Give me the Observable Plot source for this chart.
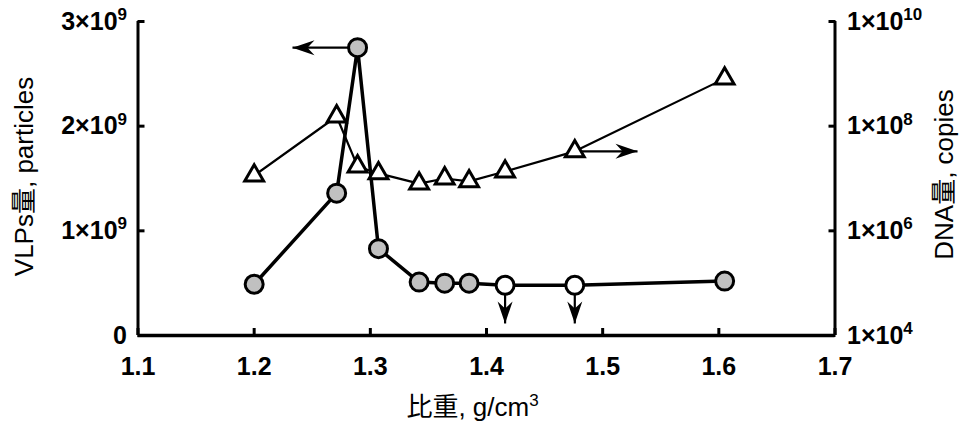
<!DOCTYPE html>
<html>
<head>
<meta charset="utf-8">
<script src="https://cdn.jsdelivr.net/npm/d3@7"></script>
<script src="https://cdn.jsdelivr.net/npm/@observablehq/plot@0.6"></script>
<style>
  html, body { margin: 0; padding: 0; background: #fff; }
  svg { display: block; }
</style>
</head>
<body>
<div id="chart"></div>
<script>
// ---- data ----
const density = [1.200, 1.271, 1.289, 1.307, 1.342, 1.364, 1.385, 1.416, 1.476, 1.605];
const vlps    = [0.49e9, 1.36e9, 2.75e9, 0.83e9, 0.51e9, 0.50e9, 0.50e9, 0.48e9, 0.48e9, 0.52e9];
const vlpsBelowLimit = [false, false, false, false, false, false, false, true, true, false];
const dna     = [1.14e7, 1.53e8, 1.7e7, 1.25e7, 8.0e6, 1.0e7, 8.8e6, 1.36e7, 3.3e7, 8.1e8];

const xTicks = [1.1, 1.2, 1.3, 1.4, 1.5, 1.6, 1.7];
const leftTicks = [0, 1e9, 2e9, 3e9];
const leftTickLabels = ["0", "1×10^9", "2×10^9", "3×10^9"];
const rightTickValues = [1e4, 1e6, 1e8, 1e10];
const rightTickLabels = ["1×10^4", "1×10^6", "1×10^8", "1×10^10"];

// axis indicator arrows (which axis each series belongs to) and upper-limit arrows
const vlpsArrowTipX = 1.233;   // arrow from VLP peak to the left
const dnaArrowTipX = 1.530;    // arrow from DNA point to the right
const dnaArrowIndex = 8;
const vlpsArrowIndex = 2;
const limitArrowTipY = 0.115e9;

const xLabel = "比重, g/cm^3";
const yLeftLabel = "VLPs量, particles";
const yRightLabel = "DNA量, copies";

// ---- map right (log) axis onto the left linear scale ----
const leftMax = 3e9;
const dnaToY = v => (Math.log10(v) - 4) / 6 * leftMax;

const vlpsData = density.map((x, i) => ({x, y: vlps[i], open: vlpsBelowLimit[i]}));
const dnaData = density.map((x, i) => ({x, y: dnaToY(dna[i])}));

const vlpsArrow = [{x1: density[vlpsArrowIndex], y1: vlps[vlpsArrowIndex], x2: vlpsArrowTipX, y2: vlps[vlpsArrowIndex], rot: 0}];
const dnaArrow = [{x1: density[dnaArrowIndex], y1: dnaToY(dna[dnaArrowIndex]), x2: dnaArrowTipX, y2: dnaToY(dna[dnaArrowIndex]), rot: 180}];
const limitArrows = vlpsData.filter(d => d.open).map(d => ({x1: d.x, y1: d.y, x2: d.x, y2: limitArrowTipY, rot: -90}));
const allArrows = [...vlpsArrow, ...dnaArrow, ...limitArrows];

// filled stealth arrowhead, tip at origin, pointing left
const arrowHead = {
  draw(context) {
    const L = 22, W = 7.5;
    context.moveTo(0, 0);
    context.lineTo(L, -W);
    context.lineTo(L * 0.68, 0);
    context.lineTo(L, W);
    context.closePath();
  }
};

const font = "'Liberation Sans', Arial, 'Noto Sans CJK JP', sans-serif";
const rightMap = new Map(leftTicks.map((t, i) => [t, rightTickLabels[i]]));
const leftMap = new Map(leftTicks.map((t, i) => [t, leftTickLabels[i]]));
const rightPos = rightTickValues.map(dnaToY);

const chart = Plot.plot({
  width: 962,
  height: 424,
  marginLeft: 137.5,
  marginRight: 127.5,
  marginTop: 21,
  marginBottom: 89,
  style: {fontFamily: font, background: "#fff", color: "#000", overflow: "visible"},
  x: {domain: [1.1, 1.7]},
  y: {domain: [0, leftMax]},
  marks: [
    // axis lines
    Plot.ruleX([1.1], {y1: 0, y2: leftMax, strokeWidth: 3}),
    Plot.ruleX([1.7], {y1: 0, y2: leftMax, strokeWidth: 3}),
    Plot.ruleY([0], {x1: 1.1, x2: 1.7, strokeWidth: 3.5}),
    // inward ticks
    Plot.axisX(xTicks, {anchor: "bottom", tickSize: -7, strokeWidth: 3, tickFormat: () => "", label: null}),
    Plot.axisY(leftTicks, {anchor: "left", tickSize: -7, strokeWidth: 3, tickFormat: () => "", label: null}),
    Plot.axisY(rightPos, {anchor: "right", tickSize: -7, strokeWidth: 3, tickFormat: () => "", label: null}),
    // tick labels
    Plot.axisX(xTicks, {anchor: "bottom", tickSize: 0, tickPadding: 22, tickFormat: d => d.toFixed(1),
      fontSize: 25, fontWeight: "bold", label: null}),
    Plot.axisY(leftTicks, {anchor: "left", tickSize: 0, tickPadding: 11, tickFormat: d => leftMap.get(d),
      fontSize: 25, fontWeight: "bold", label: null}),
    Plot.axisY(rightPos, {anchor: "right", tickSize: 0, tickPadding: 12,
      tickFormat: d => rightMap.get(leftTicks[rightPos.indexOf(d)]),
      fontSize: 25, fontWeight: "bold", label: null}),
    // axis titles
    Plot.text([xLabel], {frameAnchor: "bottom", text: d => d, dy: 72, dx: -14, fontSize: 26,
      textAnchor: "middle", lineAnchor: "middle"}),
    Plot.text([yLeftLabel], {frameAnchor: "left", text: d => d, rotate: -90, dx: -113, dy: -2, fontSize: 26,
      textAnchor: "middle", lineAnchor: "middle"}),
    Plot.text([yRightLabel], {frameAnchor: "right", text: d => d, rotate: -90, dx: 110, dy: -4, fontSize: 26,
      textAnchor: "middle", lineAnchor: "middle"}),
    // series lines
    Plot.line(vlpsData, {x: "x", y: "y", stroke: "#000", strokeWidth: 3.5}),
    Plot.line(dnaData, {x: "x", y: "y", stroke: "#000", strokeWidth: 2.2}),
    // arrows
    Plot.link(allArrows, {x1: "x1", y1: "y1", x2: "x2", y2: "y2", stroke: "#000", strokeWidth: 2.2}),
    Plot.dot(allArrows, {x: "x2", y: "y2", symbol: arrowHead, rotate: "rot", fill: "#000", stroke: "none", r: 5}),
    // markers
    Plot.dot(dnaData, {x: "x", y: "y", symbol: "triangle", r: 7, fill: "#fff", stroke: "#000", strokeWidth: 3}),
    Plot.dot(vlpsData, {x: "x", y: "y", symbol: "circle", r: 9, fill: d => d.open ? "#fff" : "#c0c0c0",
      stroke: "#000", strokeWidth: 3})
  ]
});

// superscripts for "^" parts
d3.select(chart).selectAll("text").each(function() {
  const t = this.textContent;
  if (!t || !t.includes("^")) return;
  const [base, sup] = t.split("^");
  const sel = d3.select(this);
  const fs = parseFloat(sel.attr("font-size")) || parseFloat(getComputedStyle(this).fontSize) || 25;
  sel.text(null);
  sel.append("tspan").text(base);
  sel.append("tspan").attr("dy", -fs * 0.38).attr("font-size", fs * 0.68).text(sup);
});

document.getElementById("chart").appendChild(chart);
</script>
</body>
</html>
